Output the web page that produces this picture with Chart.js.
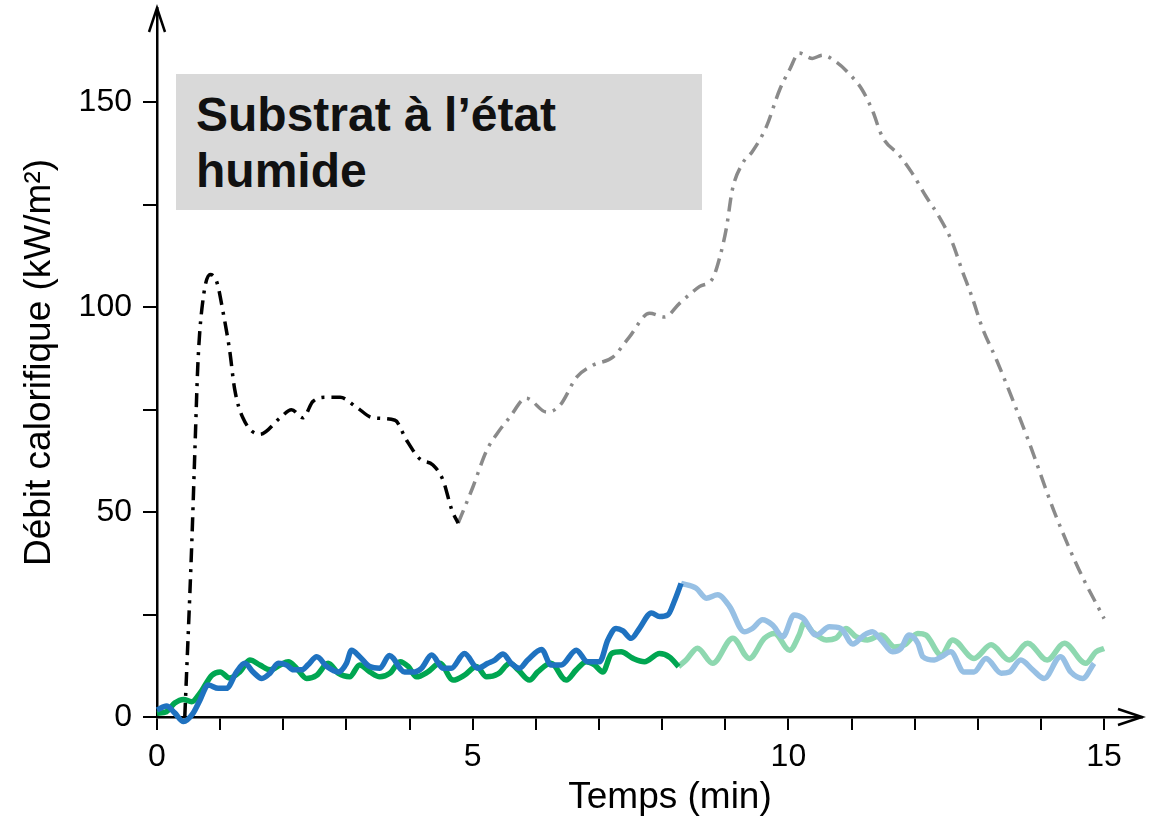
<!DOCTYPE html>
<html>
<head>
<meta charset="utf-8">
<script src="https://cdn.jsdelivr.net/npm/chart.js@4.4.1/dist/chart.umd.min.js"></script>
<style>
    body { margin: 0; background: #fff; }
    #wrap { position: relative; width: 1166px; height: 822px; }
    #label {
        position: absolute; left: 176px; top: 74px; width: 526px; height: 136px;
        background: #d9d9d9; box-sizing: border-box; padding: 13px 0 0 20px;
        font: bold 48px 'Liberation Sans', Arial, sans-serif; line-height: 56px; color: #111;
    }
</style>
</head>
<body>
<div id="wrap">
    <canvas id="myChart" width="1166" height="822"></canvas>
    <div id="label">Substrat à l’état<br>humide</div>
</div>
<script>
// DATA (time in min, heat release rate in kW/m²)
var blackT = [0.44, 0.55, 0.6, 0.65, 0.73, 0.84, 0.95, 1.05, 1.15, 1.23, 1.36, 1.63, 1.95, 2.13, 2.31, 2.47, 2.69, 2.9, 3.16, 3.42, 3.77, 3.95, 4.16, 4.37, 4.53, 4.67, 4.77];
var blackV = [0, 42, 65, 87, 102, 108, 106, 98.5, 89.5, 80, 73, 69, 73, 75, 73, 77, 78, 78, 75.6, 73, 72.4, 67.6, 63, 61.5, 57.8, 50.5, 47.3];

var grayT = [4.77, 5.0, 5.22, 5.38, 5.58, 5.85, 6.17, 6.38, 6.65, 6.9, 7.22, 7.48, 7.8, 8.04, 8.28, 8.59, 8.8, 8.91, 9.02, 9.11, 9.27, 9.43, 9.65, 9.86, 10.02, 10.17, 10.38, 10.54, 10.76, 10.96, 11.17, 11.33, 11.49, 11.76, 11.96, 12.18, 12.39, 12.59, 12.75, 12.91, 13.07, 13.3, 13.8, 14.2, 14.6, 15.0];
var grayV = [47.3, 56, 65, 69, 73, 77.8, 74.4, 76, 83, 85.8, 87.8, 92.7, 98.5, 97.6, 101, 105, 107, 112, 119.5, 128.5, 135, 138, 144, 153, 158, 162, 160.7, 161.5, 159.8, 157, 153, 148, 141.5, 137, 132.7, 127, 122, 116, 109, 102.4, 95, 87, 67.5, 50.5, 36, 24];

var greenT = [0, 0.15, 0.28, 0.42, 0.55, 0.68, 0.87, 1.0, 1.15, 1.31, 1.47, 1.63, 1.79, 1.95, 2.08, 2.21, 2.37, 2.53, 2.71, 2.87, 3.05, 3.21, 3.37, 3.53, 3.69, 3.85, 3.98, 4.11, 4.29, 4.48, 4.69, 4.87, 5.06, 5.22, 5.4, 5.59, 5.72, 5.9, 6.03, 6.24, 6.48, 6.64, 6.8, 6.93, 7.06, 7.2, 7.35, 7.54, 7.72, 7.96, 8.12, 8.26];
var greenV = [0.9, 1.3, 3.4, 4.3, 3.7, 5.8, 10.2, 11, 9.5, 11, 13.9, 12.7, 11.5, 12.7, 13.5, 11.9, 9.4, 10.2, 13.1, 10.7, 9.8, 12.7, 11, 9.8, 10.7, 13.5, 12.3, 9.8, 11, 13.1, 9, 10.2, 12.3, 9.8, 10.5, 13.1, 11.5, 9, 11, 13.1, 9, 11.5, 13.5, 12.7, 11, 15.5, 15.9, 14.3, 13.5, 15.5, 14.6, 12.3];

var blueT = [0, 0.15, 0.28, 0.42, 0.57, 0.68, 0.81, 0.97, 1.1, 1.26, 1.39, 1.52, 1.66, 1.79, 1.92, 2.05, 2.16, 2.29, 2.39, 2.53, 2.69, 2.87, 3.0, 3.08, 3.21, 3.37, 3.53, 3.68, 3.92, 4.08, 4.19, 4.35, 4.53, 4.66, 4.87, 5.08, 5.24, 5.35, 5.48, 5.61, 5.74, 5.87, 6.09, 6.24, 6.4, 6.64, 6.82, 7.01, 7.14, 7.27, 7.38, 7.51, 7.64, 7.83, 7.96, 8.09, 8.2, 8.3];
var blueV = [1.7, 2.7, 1, -1.1, 0.9, 4.1, 7.8, 7, 7, 11, 13.1, 11, 9.4, 10.7, 13.1, 12.7, 11.5, 11.5, 12.7, 14.7, 12.3, 11, 13.1, 16.3, 14.7, 12.3, 11.9, 15, 11, 11, 11.9, 15.1, 11.9, 11.9, 15.5, 11.9, 13.1, 13.9, 15.4, 13.1, 11.9, 13.9, 16.5, 12.7, 12.7, 16.3, 13.5, 13.5, 18.8, 21.6, 21, 19.2, 21.6, 25.4, 24.5, 24.9, 28.5, 32.6];

var lightGreenT = [8.26, 8.38, 8.56, 8.8, 9.12, 9.38, 9.62, 9.78, 10.02, 10.17, 10.25, 10.38, 10.6, 10.75, 10.91, 11.07, 11.25, 11.47, 11.68, 11.84, 12.05, 12.18, 12.42, 12.6, 12.94, 13.21, 13.5, 13.79, 14.1, 14.37, 14.71, 14.87, 15.0];
var lightGreenV = [12.3, 13.9, 16.8, 13.1, 19.2, 14.3, 19.2, 20.4, 16.3, 20, 23, 20.8, 18.8, 19.2, 21.6, 19.6, 18.8, 20, 17.1, 17.6, 20.4, 20, 15.1, 18.8, 14.3, 17.6, 13.9, 18, 13.9, 18, 13.1, 15.9, 16.7];

var lightBlueT = [8.3, 8.54, 8.7, 8.88, 9.07, 9.3, 9.43, 9.59, 9.75, 9.91, 10.09, 10.23, 10.44, 10.65, 10.83, 11.02, 11.2, 11.33, 11.47, 11.65, 11.78, 11.91, 12.05, 12.13, 12.31, 12.42, 12.57, 12.78, 12.94, 13.13, 13.37, 13.5, 13.68, 13.87, 14.05, 14.31, 14.47, 14.66, 14.84];
var lightBlueV = [32.6, 31.4, 29, 29.8, 26.9, 20.8, 21.6, 23.7, 22.4, 19.6, 24.9, 24.1, 20, 22, 21.6, 17.8, 20, 20.8, 18.8, 15.9, 16.7, 20, 18, 14.7, 13.9, 14.7, 15.9, 11, 11, 14.3, 10.7, 11, 13.9, 11.5, 9.4, 14.7, 11, 9.4, 13.1];

var xTicksLabeled = [0, 5, 10, 15];
var yTicksLabeled = [0, 50, 100, 150];
var xTitle = 'Temps (min)';
var yTitle = 'Débit calorifique (kW/m²)';

// PAIR TIMES AND VALUES
function pts(ts, vs) {
    return ts.map(function (t, i) { return { x: t, y: vs[i] }; });
}

function line(data, color, width, dash) {
    return {
        data: data,
        borderColor: color,
        borderWidth: width,
        borderDash: dash || [],
        borderCapStyle: 'butt',
        pointRadius: 0,
        fill: false,
        clip: false,
        cubicInterpolationMode: 'monotone'
    };
}

// ARROW HEADS ON THE AXES + X TITLE
var axisExtras = {
    id: 'axisExtras',
    afterDraw: function (chart) {
        var ctx = chart.ctx, a = chart.chartArea;
        ctx.save();
        ctx.strokeStyle = '#000';
        ctx.lineWidth = 2.5;
        ctx.beginPath();
        ctx.moveTo(a.left - 8, a.top + 24);
        ctx.lineTo(a.left, a.top);
        ctx.lineTo(a.left + 8, a.top + 24);
        ctx.moveTo(a.right - 24, a.bottom - 8);
        ctx.lineTo(a.right, a.bottom);
        ctx.lineTo(a.right - 24, a.bottom + 8);
        ctx.stroke();

        ctx.fillStyle = '#000';
        ctx.font = "37px 'Liberation Sans', Arial";
        ctx.textAlign = 'center';
        ctx.textBaseline = 'alphabetic';
        ctx.fillText(xTitle, 670, 808);
        ctx.restore();
    }
};

var dashDot = [14, 7, 3, 7];

new Chart(document.getElementById('myChart').getContext('2d'), {
    type: 'line',
    data: {
        datasets: [
            line(pts(blackT, blackV), '#000000', 3.5, dashDot),
            line(pts(grayT, grayV), '#8a8a8a', 3.5, dashDot),
            line(pts(blueT, blueV), '#1f72c0', 5.5),
            line(pts(lightBlueT, lightBlueV), '#97c0e4', 5.5),
            line(pts(greenT, greenV), '#00a651', 5.5),
            line(pts(lightGreenT, lightGreenV), '#8ed8b0', 5.5)
        ]
    },
    options: {
        responsive: false,
        animation: false,
        layout: { padding: { top: 8, right: 24, left: 0, bottom: 0 } },
        plugins: { legend: { display: false }, tooltip: { enabled: false } },
        scales: {
            x: {
                type: 'linear',
                min: 0,
                max: 15.6,
                border: { color: '#000', width: 2.5 },
                grid: { drawOnChartArea: false, drawTicks: true, tickLength: 13, color: '#000', lineWidth: 2 },
                ticks: {
                    stepSize: 1,
                    includeBounds: false,
                    autoSkip: false,
                    maxRotation: 0,
                    padding: 8,
                    color: '#000',
                    font: { family: "'Liberation Sans', Arial", size: 32 },
                    callback: function (v) { return xTicksLabeled.indexOf(v) >= 0 ? v : ''; }
                },
                title: { display: false },
                afterFit: function (s) { s.height = 105; s.paddingLeft = 0; s.paddingRight = 0; }
            },
            y: {
                min: 0,
                max: 173,
                border: { color: '#000', width: 2.5 },
                grid: { drawOnChartArea: false, drawTicks: true, tickLength: 14, color: '#000', lineWidth: 2 },
                ticks: {
                    stepSize: 25,
                    includeBounds: false,
                    autoSkip: false,
                    padding: 11,
                    color: '#000',
                    font: { family: "'Liberation Sans', Arial", size: 32 },
                    callback: function (v) { return yTicksLabeled.indexOf(v) >= 0 ? v : ''; }
                },
                title: {
                    display: true,
                    text: yTitle,
                    color: '#000',
                    font: { family: "'Liberation Sans', Arial", size: 37 },
                    padding: { top: 18, bottom: 0 }
                },
                afterFit: function (s) { s.width = 157; s.paddingTop = 0; s.paddingBottom = 0; }
            }
        }
    },
    plugins: [axisExtras]
});
</script>
</body>
</html>
